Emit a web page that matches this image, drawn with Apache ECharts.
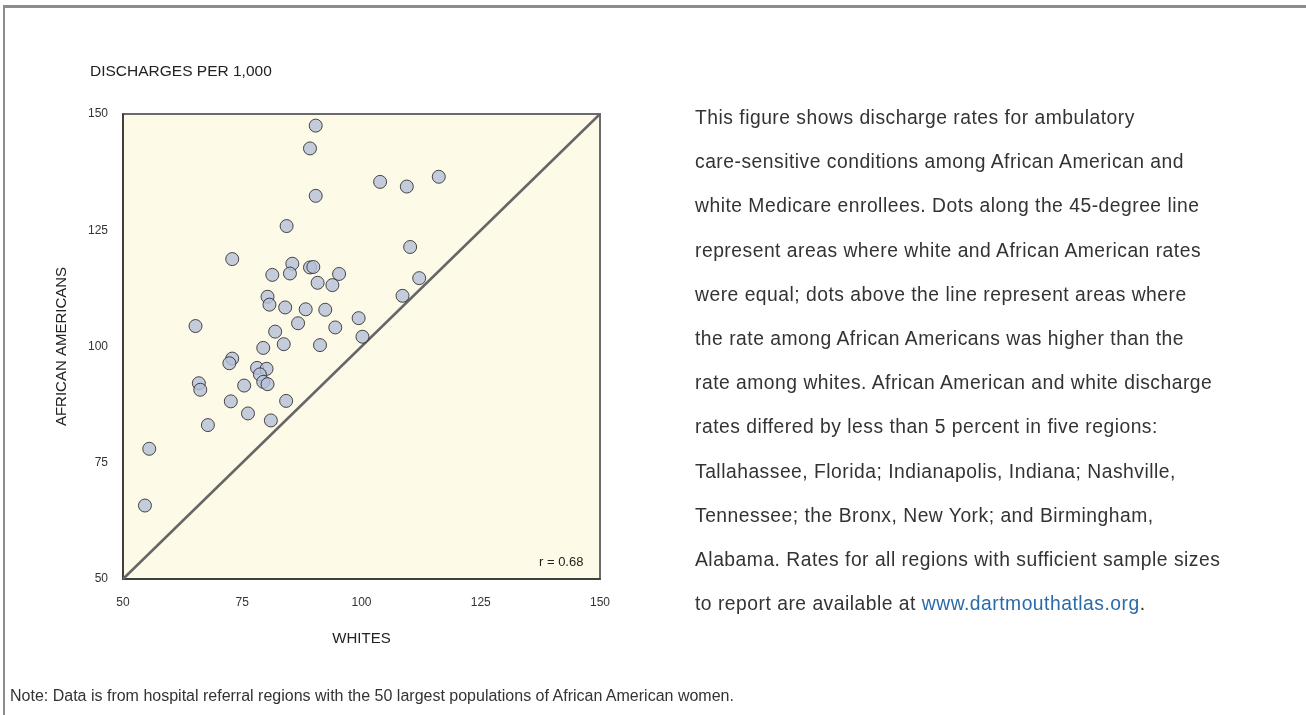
<!DOCTYPE html>
<html>
<head>
<meta charset="utf-8">
<script src="https://cdn.jsdelivr.net/npm/echarts@6/dist/echarts.min.js"></script>
<style>
  html, body { margin: 0; padding: 0; background: #fff; }
  #wrap { position: relative; width: 1306px; height: 715px; overflow: hidden; }
  #chart { position: absolute; left: 0; top: 0; width: 1306px; height: 715px; }
  .frame-top { position: absolute; left: 3px; top: 5px; width: 1303px; height: 3px; background: #8c8c8c; }
  .frame-left { position: absolute; left: 3px; top: 5px; width: 2px; height: 710px; background: #8c8c8c; }
  #blurb {
    position: absolute; left: 695px; top: 96px; width: 600px;
    font-family: "Liberation Sans", Arial, sans-serif; font-size: 19.3px;
    letter-spacing: 0.5px; line-height: 44.2px; color: #333; white-space: nowrap;
  }
  #blurb a { color: #2a6aaa; text-decoration: none; }
  #note {
    position: absolute; left: 10px; top: 687px;
    font-family: "Liberation Sans", Arial, sans-serif;
    font-size: 16px; color: #333; white-space: nowrap;
  }
</style>
</head>
<body>
<div id="wrap">
  <div class="frame-top"></div>
  <div class="frame-left"></div>
  <div id="chart"></div>
  <div id="blurb">
    This figure shows discharge rates for ambulatory<br>
    care-sensitive conditions among African American and<br>
    white Medicare enrollees. Dots along the 45-degree line<br>
    represent areas where white and African American rates<br>
    were equal; dots above the line represent areas where<br>
    the rate among African Americans was higher than the<br>
    rate among whites. African American and white discharge<br>
    rates differed by less than 5 percent in five regions:<br>
    Tallahassee, Florida; Indianapolis, Indiana; Nashville,<br>
    Tennessee; the Bronx, New York; and Birmingham,<br>
    Alabama. Rates for all regions with sufficient sample sizes<br>
    to report are available at <a>www.dartmouthatlas.org</a>.
  </div>
  <div id="note">Note: Data is from hospital referral regions with the 50 largest populations of African American women.</div>
</div>
<script>
// Discharge rates per 1,000 for each hospital referral region
const whites = [90.4, 89.2, 90.4, 84.3, 72.9, 85.5, 89.2, 89.9, 81.3, 85.0,
                95.3, 90.8, 93.9, 80.3, 80.7, 84.0, 88.3, 92.4, 99.4, 65.2,
                86.7, 94.5, 81.9, 100.2, 79.4, 83.7, 91.3, 72.9, 72.3, 78.1,
                80.1, 78.7, 79.4, 80.3, 65.9, 66.2, 75.4, 72.6, 84.2, 76.2,
                81.0, 67.8, 55.5, 54.6, 103.9, 109.5, 116.2, 110.2, 112.1, 108.6];
const africanAmericans = [147.5, 142.6, 132.4, 125.9, 118.8, 117.8, 117.0, 117.1, 115.4, 115.7,
                          115.6, 113.7, 113.2, 110.7, 109.0, 108.4, 108.0, 107.9, 106.1, 104.4,
                          105.0, 104.1, 103.2, 102.1, 99.7, 100.5, 100.3, 97.4, 96.4, 95.4,
                          95.2, 94.0, 92.4, 91.9, 92.1, 90.7, 91.6, 88.2, 88.3, 85.6,
                          84.1, 83.1, 78.0, 65.8, 135.4, 134.4, 136.5, 121.4, 114.7, 110.9];
// Equal-rate reference (45-degree line) endpoints
const parityLine = [[50, 50], [150, 150]];
const axisMin = 50, axisMax = 150, axisStep = 25;
const correlationLabel = 'r = 0.68';

const points = whites.map((w, i) => [w, africanAmericans[i]]);
const labelFont = 'Liberation Sans, Arial, sans-serif';

const chart = echarts.init(document.getElementById('chart'), null, { renderer: 'canvas' });
chart.setOption({
  animation: false,
  grid: {
    left: 123, top: 114, width: 477, height: 465,
    show: true, backgroundColor: '#fdfae7',
    borderColor: '#6a6a6a', borderWidth: 2
  },
  xAxis: {
    type: 'value', min: axisMin, max: axisMax, interval: axisStep,
    name: 'WHITES', nameLocation: 'middle', nameGap: 52,
    nameTextStyle: { fontFamily: labelFont, fontSize: 15, color: '#222' },
    axisLine: { show: true, lineStyle: { color: '#333', width: 1.5 } },
    axisTick: { show: false },
    splitLine: { show: false },
    axisLabel: { margin: 18, fontFamily: labelFont, fontSize: 12, color: '#333' }
  },
  yAxis: {
    type: 'value', min: axisMin, max: axisMax, interval: axisStep,
    name: 'AFRICAN AMERICANS', nameLocation: 'middle', nameGap: 54,
    nameTextStyle: { fontFamily: labelFont, fontSize: 15, color: '#222' },
    axisLine: { show: true, lineStyle: { color: '#333', width: 1.5 } },
    axisTick: { show: false },
    splitLine: { show: false },
    axisLabel: { margin: 15, fontFamily: labelFont, fontSize: 12, color: '#333' }
  },
  graphic: [
    {
      type: 'text', left: 90, top: 64,
      style: { text: 'DISCHARGES PER 1,000', font: '15.5px ' + labelFont, fill: '#222' }
    },
    {
      type: 'text', left: 539, top: 556,
      style: { text: correlationLabel, font: '13px ' + labelFont, fill: '#222' }
    }
  ],
  series: [
    {
      type: 'line',
      data: parityLine,
      symbol: 'none',
      lineStyle: { color: '#666', width: 2.5 },
      silent: true,
      z: 1
    },
    {
      type: 'scatter',
      data: points,
      symbol: 'circle',
      symbolSize: 13,
      itemStyle: { color: '#b5c0da', borderColor: '#1e1e1e', borderWidth: 1 },
      z: 2
    }
  ]
});
</script>
</body>
</html>
